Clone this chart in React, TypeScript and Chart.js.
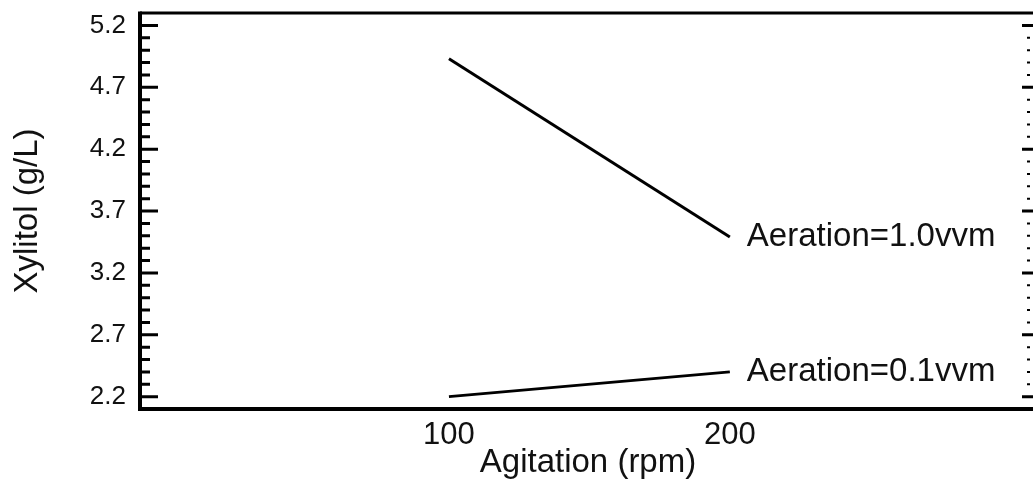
import React, { useEffect, useRef } from "react";
import { Chart, registerables } from "chart.js";

Chart.register(...registerables);

// Interaction of agitation speed and aeration rate on xylitol titre
const agitation = [100, 200];
const xylitolAeration10 = [4.93, 3.49];
const xylitolAeration01 = [2.2, 2.4];
const seriesLabels = ["Aeration=1.0vvm", "Aeration=0.1vvm"];

const xTickValues = [100, 200];
const yMajorTicks = [2.2, 2.7, 3.2, 3.7, 4.2, 4.7, 5.2];
const yMinorTicks = [
  2.3, 2.4, 2.5, 2.6, 2.8, 2.9, 3.0, 3.1, 3.3, 3.4, 3.5, 3.6,
  3.8, 3.9, 4.0, 4.1, 4.3, 4.4, 4.5, 4.6, 4.8, 4.9, 5.0, 5.1,
];

const FONT = "'Liberation Sans', Arial, Helvetica, sans-serif";
const INK = "#111111";

// Frame with inward tick marks on the left and right edges
const framePlugin = {
  id: "frame",
  afterDraw(chart: any) {
    const { ctx, chartArea } = chart;
    const { left, right, top, bottom } = chartArea;
    const y = chart.scales.y;
    ctx.save();
    ctx.strokeStyle = "#000";
    ctx.lineCap = "butt";

    ctx.lineWidth = 3;
    ctx.beginPath();
    ctx.moveTo(left, top);
    ctx.lineTo(right, top);
    ctx.stroke();

    ctx.lineWidth = 4;
    ctx.beginPath();
    ctx.moveTo(left, top - 1.5);
    ctx.lineTo(left, bottom + 2);
    ctx.moveTo(left - 2, bottom);
    ctx.lineTo(right, bottom);
    ctx.lineTo(right, top);
    ctx.stroke();

    ctx.lineWidth = 3;
    ctx.beginPath();
    for (const v of yMajorTicks) {
      const py = y.getPixelForValue(v);
      ctx.moveTo(left, py);
      ctx.lineTo(left + 18, py);
      ctx.moveTo(right, py);
      ctx.lineTo(right - 14, py);
    }
    for (const v of yMinorTicks) {
      const py = y.getPixelForValue(v);
      ctx.moveTo(left, py);
      ctx.lineTo(left + 10, py);
    }
    ctx.stroke();

    ctx.lineWidth = 2;
    ctx.beginPath();
    for (const v of yMinorTicks) {
      const py = y.getPixelForValue(v);
      ctx.moveTo(right - 9, py);
      ctx.lineTo(right - 6, py);
    }
    ctx.stroke();
    ctx.restore();
  },
};

// Text labels placed just after each line's last point
const endLabelPlugin = {
  id: "endLabels",
  afterDatasetsDraw(chart: any) {
    const { ctx } = chart;
    ctx.save();
    ctx.fillStyle = INK;
    ctx.font = `33px ${FONT}`;
    ctx.textAlign = "left";
    ctx.textBaseline = "middle";
    chart.data.datasets.forEach((ds: any, i: number) => {
      const meta = chart.getDatasetMeta(i);
      const last = meta.data[meta.data.length - 1];
      if (!last) return;
      ctx.fillText(seriesLabels[i], last.x + 17, last.y);
    });
    ctx.restore();
  },
};

export default function App() {
  const canvasRef = useRef<HTMLCanvasElement | null>(null);

  useEffect(() => {
    const canvas = canvasRef.current;
    if (!canvas) return;
    const toPoints = (ys: number[]) => agitation.map((x, i) => ({ x, y: ys[i] }));

    const chart = new Chart(canvas, {
      type: "line",
      data: {
        datasets: [
          {
            label: seriesLabels[0],
            data: toPoints(xylitolAeration10),
            borderColor: "#000",
            borderWidth: 3,
            pointRadius: 0,
            tension: 0,
          },
          {
            label: seriesLabels[1],
            data: toPoints(xylitolAeration01),
            borderColor: "#000",
            borderWidth: 3,
            pointRadius: 0,
            tension: 0,
          },
        ],
      },
      options: {
        responsive: false,
        animation: false,
        layout: { padding: { top: 13, right: 4, left: 0, bottom: 0 } },
        plugins: {
          legend: { display: false },
          tooltip: { enabled: false },
        },
        scales: {
          x: {
            type: "linear",
            min: -10,
            max: 309,
            grid: { display: false, drawTicks: false },
            border: { display: false },
            afterBuildTicks: (s: any) => {
              s.ticks = xTickValues.map((v) => ({ value: v }));
            },
            afterFit: (s: any) => {
              s.height = 75;
              s.paddingLeft = 0;
              s.paddingRight = 0;
            },
            ticks: {
              color: INK,
              font: { family: FONT, size: 31 },
              padding: 8,
              maxRotation: 0,
              autoSkip: false,
              callback: (v: any) => String(v),
            },
            title: {
              display: true,
              text: "Agitation (rpm)",
              color: INK,
              font: { family: FONT, size: 33 },
              padding: { top: 0, bottom: 1 },
            },
          },
          y: {
            type: "linear",
            min: 2.1,
            max: 5.3,
            grid: { display: false, drawTicks: false },
            border: { display: false },
            afterBuildTicks: (s: any) => {
              s.ticks = yMajorTicks.map((v) => ({ value: v }));
            },
            afterFit: (s: any) => {
              s.width = 140;
              s.paddingTop = 0;
              s.paddingBottom = 0;
            },
            ticks: {
              color: INK,
              font: { family: FONT, size: 26 },
              padding: 14,
              autoSkip: false,
              callback: (v: any) => Number(v).toFixed(1),
            },
            title: {
              display: true,
              text: "Xylitol (g/L)",
              color: INK,
              font: { family: FONT, size: 33 },
              padding: { top: 8, bottom: 0 },
            },
          },
        },
      },
      plugins: [framePlugin, endLabelPlugin],
    } as any);

    return () => chart.destroy();
  }, []);

  return (
    <div
      style={{
        position: "absolute",
        left: 0,
        top: 0,
        width: 1033,
        height: 484,
        overflow: "hidden",
        background: "#fff",
      }}
    >
      <canvas ref={canvasRef} width={1040} height={484} style={{ display: "block" }} />
    </div>
  );
}
